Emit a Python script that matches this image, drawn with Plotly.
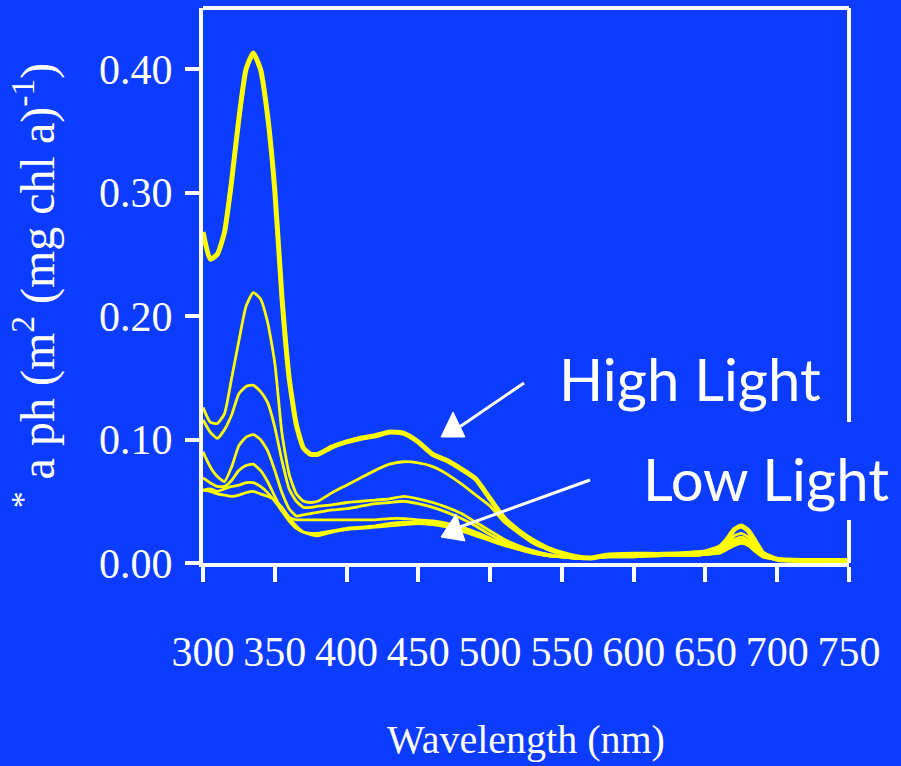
import plotly.graph_objects as go

# ---------------- data ----------------
wavelength = [300, 305, 310, 315, 320, 325, 330, 335, 340, 345, 350, 355, 360, 365, 370, 375, 380,
              390, 400, 410, 420, 430, 440, 450, 460, 470, 480, 490, 500, 510, 520, 530, 540, 550,
              560, 570, 580, 600, 620, 640, 650, 660, 665, 670, 675, 680, 685, 690, 700, 720, 750]

high_light_1 = [0.268, 0.246, 0.250, 0.268, 0.310, 0.360, 0.400, 0.413, 0.400, 0.362, 0.302, 0.215, 0.150,
                0.112, 0.093, 0.088, 0.088, 0.094, 0.098, 0.101, 0.103, 0.106, 0.105, 0.098, 0.088, 0.083,
                0.076, 0.068, 0.052, 0.036, 0.026, 0.018, 0.012, 0.008, 0.005, 0.004, 0.006, 0.007, 0.007,
                0.008, 0.009, 0.013, 0.019, 0.027, 0.030, 0.026, 0.017, 0.008, 0.003, 0.002, 0.002]

series_2 = [0.126, 0.114, 0.113, 0.121, 0.150, 0.180, 0.208, 0.219, 0.214, 0.195, 0.162, 0.105, 0.072,
            0.056, 0.050, 0.049, 0.050, 0.057, 0.063, 0.069, 0.075, 0.080, 0.082, 0.081, 0.078, 0.072,
            0.064, 0.055, 0.046, 0.033, 0.024, 0.016, 0.011, 0.007, 0.005, 0.004, 0.005, 0.006, 0.007,
            0.007, 0.008, 0.011, 0.016, 0.022, 0.024, 0.021, 0.014, 0.007, 0.003, 0.002, 0.002]

series_3 = [0.116, 0.106, 0.101, 0.108, 0.120, 0.137, 0.143, 0.144, 0.139, 0.130, 0.110, 0.083, 0.060,
            0.050, 0.045, 0.045, 0.046, 0.047, 0.049, 0.050, 0.051, 0.052, 0.054, 0.052, 0.049, 0.045,
            0.040, 0.033, 0.026, 0.019, 0.014, 0.010, 0.007, 0.005, 0.004, 0.004, 0.005, 0.006, 0.006,
            0.007, 0.008, 0.010, 0.014, 0.019, 0.021, 0.018, 0.012, 0.006, 0.003, 0.002, 0.002]

series_4 = [0.090, 0.078, 0.070, 0.066, 0.078, 0.095, 0.102, 0.104, 0.100, 0.091, 0.075, 0.057, 0.044,
            0.038, 0.039, 0.040, 0.041, 0.043, 0.044, 0.046, 0.048, 0.049, 0.050, 0.048, 0.045, 0.041,
            0.036, 0.030, 0.023, 0.017, 0.012, 0.009, 0.006, 0.005, 0.004, 0.004, 0.005, 0.006, 0.006,
            0.007, 0.007, 0.009, 0.013, 0.017, 0.019, 0.017, 0.011, 0.006, 0.003, 0.002, 0.002]

series_5 = [0.069, 0.065, 0.062, 0.062, 0.067, 0.075, 0.079, 0.080, 0.075, 0.066, 0.054, 0.043, 0.037,
            0.035, 0.035, 0.035, 0.035, 0.035, 0.035, 0.035, 0.035, 0.036, 0.036, 0.035, 0.034, 0.032,
            0.029, 0.025, 0.020, 0.015, 0.011, 0.008, 0.006, 0.005, 0.004, 0.004, 0.005, 0.006, 0.006,
            0.006, 0.007, 0.009, 0.012, 0.016, 0.018, 0.016, 0.011, 0.006, 0.003, 0.002, 0.002]

series_6 = [0.059, 0.060, 0.058, 0.060, 0.062, 0.063, 0.065, 0.065, 0.062, 0.057, 0.050, 0.042, 0.034,
            0.028, 0.025, 0.024, 0.024, 0.026, 0.028, 0.029, 0.030, 0.032, 0.033, 0.033, 0.032, 0.030,
            0.027, 0.023, 0.019, 0.015, 0.012, 0.009, 0.007, 0.005, 0.004, 0.004, 0.005, 0.005, 0.006,
            0.006, 0.007, 0.009, 0.012, 0.016, 0.018, 0.016, 0.010, 0.005, 0.003, 0.002, 0.002]

series_7 = [0.059, 0.058, 0.056, 0.055, 0.054, 0.055, 0.057, 0.058, 0.056, 0.054, 0.051, 0.045, 0.037,
            0.030, 0.025, 0.023, 0.022, 0.025, 0.027, 0.028, 0.029, 0.030, 0.031, 0.032, 0.031, 0.029,
            0.026, 0.022, 0.018, 0.014, 0.011, 0.008, 0.006, 0.005, 0.004, 0.004, 0.005, 0.005, 0.006,
            0.006, 0.007, 0.008, 0.011, 0.014, 0.016, 0.014, 0.009, 0.005, 0.003, 0.002, 0.002]

x_ticks = [300, 350, 400, 450, 500, 550, 600, 650, 700, 750]
y_ticks = [0.0, 0.1, 0.2, 0.3, 0.4]
y_tick_text = ["0.00", "0.10", "0.20", "0.30", "0.40"]

# ---------------- styling ----------------
BG = "#0b3cff"
YEL = "#ffff00"
WHITE = "#ffffff"
SERIF = "Liberation Serif, Times New Roman, serif"
SANS = "Lato, Open Sans, sans-serif"

fig = go.Figure()
thin = [series_2, series_3, series_4, series_5, series_6, series_7]
for s in thin:
    fig.add_trace(go.Scatter(x=wavelength, y=s, mode="lines",
                             line=dict(color=YEL, width=2.8, shape="spline", smoothing=0.5),
                             hoverinfo="skip"))
fig.add_trace(go.Scatter(x=wavelength, y=high_light_1, mode="lines",
                         line=dict(color=YEL, width=5, shape="spline", smoothing=0.5),
                         hoverinfo="skip"))

W, H = 901, 766
ML, MR, MT, MB = 203, 52, 8, 203
PW = W - ML - MR
PH = H - MT - MB


def px(x):
    return (x - ML) / PW


def py(y):
    return (H - MB - y) / PH


shapes = []
# top frame line
shapes.append(dict(type="line", xref="paper", yref="paper", x0=0, x1=1, y0=1, y1=1,
                   line=dict(color=WHITE, width=4)))
# right frame line (interrupted by labels)
shapes.append(dict(type="line", xref="paper", yref="paper", x0=1, x1=1, y0=1, y1=py(422),
                   line=dict(color=WHITE, width=4)))
shapes.append(dict(type="line", xref="paper", yref="paper", x0=1, x1=1, y0=py(520), y1=0,
                   line=dict(color=WHITE, width=4)))
# High Light arrow
shapes.append(dict(type="line", xref="paper", yref="paper", x0=px(524), y0=py(383),
                   x1=px(458), y1=py(428), line=dict(color=WHITE, width=3)))
shapes.append(dict(type="path", xref="paper", yref="paper",
                   path=f"M {px(441)} {py(437)} L {px(465)} {py(437)} L {px(453)} {py(412)} Z",
                   fillcolor=WHITE, line=dict(color=WHITE, width=1)))
# Low Light arrow
shapes.append(dict(type="line", xref="paper", yref="paper", x0=px(590), y0=py(480),
                   x1=px(460), y1=py(527), line=dict(color=WHITE, width=3)))
shapes.append(dict(type="path", xref="paper", yref="paper",
                   path=f"M {px(441)} {py(537)} L {px(465)} {py(541)} L {px(456)} {py(514)} Z",
                   fillcolor=WHITE, line=dict(color=WHITE, width=1)))

annotations = [
    dict(text="High Light", xref="paper", yref="paper", x=px(690), y=py(378),
         xanchor="center", yanchor="middle", showarrow=False,
         font=dict(family=SANS, size=58, color=WHITE)),
    dict(text="Low Light", xref="paper", yref="paper", x=px(766), y=py(478),
         xanchor="center", yanchor="middle", showarrow=False,
         font=dict(family=SANS, size=58, color=WHITE)),
]

y_top = 0.1 * (PH) / 123.5

fig.update_layout(
    width=W, height=H,
    margin=dict(l=ML, r=MR, t=MT, b=MB, pad=0),
    paper_bgcolor=BG, plot_bgcolor=BG,
    showlegend=False,
    shapes=shapes,
    annotations=annotations,
    xaxis=dict(range=[300, 750], tickvals=x_ticks, ticktext=[str(v) for v in x_ticks],
               showgrid=False, zeroline=False, showline=True, linecolor=WHITE, linewidth=4,
               ticks="outside", ticklen=15, tickwidth=4, tickcolor=WHITE,
               ticklabelstandoff=34,
               tickfont=dict(family=SERIF, size=42, color=WHITE),
               title=dict(text="Wavelength (nm)", standoff=52,
                          font=dict(family=SERIF, size=40, color=WHITE)),
               fixedrange=True),
    yaxis=dict(range=[0, y_top], tickvals=y_ticks, ticktext=y_tick_text,
               showgrid=False, zeroline=False, showline=True, linecolor=WHITE, linewidth=4,
               ticks="outside", ticklen=14, tickwidth=4, tickcolor=WHITE,
               ticklabelstandoff=4,
               tickfont=dict(family=SERIF, size=42, color=WHITE),
               title=dict(text="<sup>*</sup> a ph (m<sup>2</sup> (mg chl a)<sup>-1</sup>)",
                          standoff=30,
                          font=dict(family=SERIF, size=48, color=WHITE)),
               fixedrange=True),
)

fig.write_html("out.html", config={"displayModeBar": False})
